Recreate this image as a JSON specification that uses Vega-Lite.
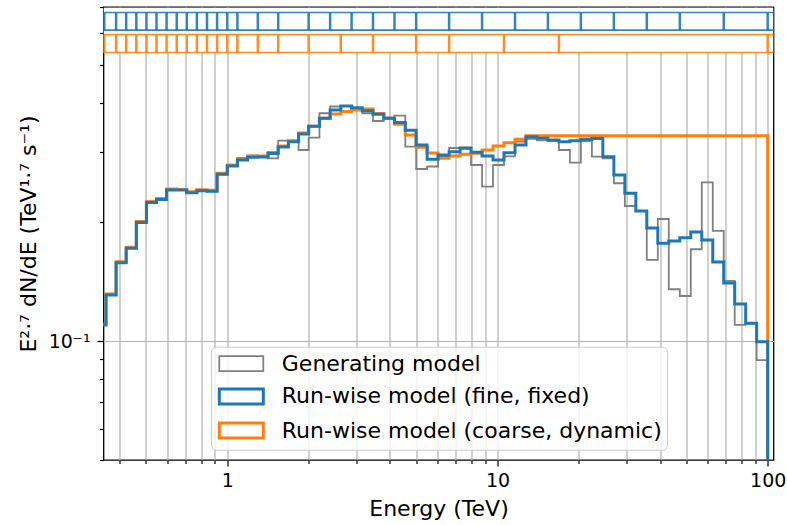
{
  "$schema": "https://vega.github.io/schema/vega-lite/v6.json",
  "width": 670,
  "height": 453,
  "autosize": {"type": "none"},
  "padding": {"left": 103.5, "top": 7, "right": 13.5, "bottom": 65},
  "background": "white",
  "config": {
    "font": "DejaVu Sans",
    "view": {"stroke": "black", "strokeWidth": 1.3}
  },
  "datasets": {
    "h": [
      {"i":0,"e":0.34,"g":0.1098,"f":0.1098,"c":0.1105},
      {"i":1,"e":0.3557,"g":0.1307,"f":0.1307,"c":0.1315},
      {"i":2,"e":0.3877,"g":0.1578,"f":0.1578,"c":0.1587},
      {"i":3,"e":0.4224,"g":0.1717,"f":0.1717,"c":0.1727},
      {"i":4,"e":0.4606,"g":0.1995,"f":0.1995,"c":0.2007},
      {"i":5,"e":0.502,"g":0.2241,"f":0.2241,"c":0.2254},
      {"i":6,"e":0.547,"g":0.2301,"f":0.2281,"c":0.2294},
      {"i":7,"e":0.5961,"g":0.2418,"f":0.2412,"c":0.2426},
      {"i":8,"e":0.6499,"g":0.2410,"f":0.2410,"c":0.2418},
      {"i":9,"e":0.708,"g":0.2373,"f":0.2373,"c":0.2387},
      {"i":10,"e":0.7718,"g":0.2401,"f":0.2401,"c":0.2415},
      {"i":11,"e":0.8411,"g":0.2393,"f":0.2393,"c":0.2407},
      {"i":12,"e":0.9167,"g":0.2641,"f":0.2641,"c":0.2656},
      {"i":13,"e":1.0,"g":0.2772,"f":0.2772,"c":0.2788},
      {"i":14,"e":1.09,"g":0.2904,"f":0.2871,"c":0.2888},
      {"i":15,"e":1.189,"g":0.2947,"f":0.2916,"c":0.2933},
      {"i":16,"e":1.297,"g":0.2939,"f":0.2921,"c":0.2938},
      {"i":17,"e":1.415,"g":0.2899,"f":0.2982,"c":0.2999},
      {"i":18,"e":1.543,"g":0.3213,"f":0.3097,"c":0.3115},
      {"i":19,"e":1.683,"g":0.3213,"f":0.3194,"c":0.3213},
      {"i":20,"e":1.836,"g":0.3043,"f":0.3341,"c":0.3360},
      {"i":21,"e":2.0,"g":0.3269,"f":0.3494,"c":0.3494},
      {"i":22,"e":2.193,"g":0.3769,"f":0.3660,"c":0.3660},
      {"i":23,"e":2.402,"g":0.3921,"f":0.3842,"c":0.3753},
      {"i":24,"e":2.631,"g":0.3932,"f":0.3932,"c":0.3808},
      {"i":25,"e":2.884,"g":0.3880,"f":0.3894,"c":0.3842},
      {"i":26,"e":3.159,"g":0.3769,"f":0.3826,"c":0.3864},
      {"i":27,"e":3.461,"g":0.3603,"f":0.3747,"c":0.3764},
      {"i":28,"e":3.795,"g":0.3673,"f":0.3660,"c":0.3660},
      {"i":29,"e":4.157,"g":0.3716,"f":0.3572,"c":0.3535},
      {"i":30,"e":4.558,"g":0.3102,"f":0.3413,"c":0.3321},
      {"i":31,"e":5.0,"g":0.2724,"f":0.3133,"c":0.3091},
      {"i":32,"e":5.49,"g":0.2764,"f":0.2884,"c":0.2990},
      {"i":33,"e":6.029,"g":0.2921,"f":0.2956,"c":0.2899},
      {"i":34,"e":6.621,"g":0.3079,"f":0.3013,"c":0.2939},
      {"i":35,"e":7.27,"g":0.3088,"f":0.3073,"c":0.2968},
      {"i":36,"e":7.983,"g":0.2788,"f":0.3003,"c":0.2985},
      {"i":37,"e":8.766,"g":0.2458,"f":0.2939,"c":0.3043},
      {"i":38,"e":9.626,"g":0.2788,"f":0.2871,"c":0.3115},
      {"i":39,"e":10.57,"g":0.2933,"f":0.2996,"c":0.3175},
      {"i":40,"e":11.61,"g":0.3194,"f":0.3133,"c":0.3239},
      {"i":41,"e":12.75,"g":0.3245,"f":0.3289,"c":0.3306},
      {"i":42,"e":14.0,"g":0.3217,"f":0.3258,"c":0.3306},
      {"i":43,"e":15.37,"g":0.3207,"f":0.3226,"c":0.3306},
      {"i":44,"e":16.88,"g":0.3043,"f":0.3194,"c":0.3306},
      {"i":45,"e":18.53,"g":0.2826,"f":0.3213,"c":0.3306},
      {"i":46,"e":20.35,"g":0.3207,"f":0.3239,"c":0.3306},
      {"i":47,"e":22.35,"g":0.2927,"f":0.3254,"c":0.3306},
      {"i":48,"e":24.54,"g":0.2899,"f":0.2927,"c":0.3306},
      {"i":49,"e":26.96,"g":0.2507,"f":0.2630,"c":0.3306},
      {"i":50,"e":29.6,"g":0.2196,"f":0.2365,"c":0.3306},
      {"i":51,"e":32.51,"g":0.2133,"f":0.2133,"c":0.3306},
      {"i":52,"e":35.69,"g":0.1604,"f":0.1932,"c":0.3306},
      {"i":53,"e":39.2,"g":0.2036,"f":0.1767,"c":0.3306},
      {"i":54,"e":43.04,"g":0.1352,"f":0.1791,"c":0.3306},
      {"i":55,"e":47.29,"g":0.1300,"f":0.1826,"c":0.3306},
      {"i":56,"e":51.92,"g":0.1707,"f":0.1888,"c":0.3306},
      {"i":57,"e":57.02,"g":0.2521,"f":0.1802,"c":0.3306},
      {"i":58,"e":62.61,"g":0.1899,"f":0.1585,"c":0.3306},
      {"i":59,"e":68.75,"g":0.1419,"f":0.1402,"c":0.3306},
      {"i":60,"e":75.5,"g":0.1098,"f":0.1241,"c":0.3306},
      {"i":61,"e":82.9,"g":0.1109,"f":0.1109,"c":0.3306},
      {"i":62,"e":91.03,"g":0.0895,"f":0.0996,"c":0.3306},
      {"i":63,"e":100,"g":0.01,"f":0.01,"c":0.01}
    ],
    "edges": [
      {"s":"f","e":0.3505},{"s":"f","e":0.3877},{"s":"f","e":0.4224},{"s":"f","e":0.4606},{"s":"f","e":0.502},
      {"s":"f","e":0.547},{"s":"f","e":0.5961},{"s":"f","e":0.6499},{"s":"f","e":0.708},{"s":"f","e":0.7718},
      {"s":"f","e":0.8411},{"s":"f","e":0.9167},{"s":"f","e":1.0},{"s":"f","e":1.09},{"s":"f","e":1.297},
      {"s":"f","e":1.543},{"s":"f","e":2.0},{"s":"f","e":2.402},{"s":"f","e":2.884},{"s":"f","e":3.461},
      {"s":"f","e":4.157},{"s":"f","e":5.0},{"s":"f","e":6.621},{"s":"f","e":8.766},{"s":"f","e":11.61},
      {"s":"f","e":15.37},{"s":"f","e":20.35},{"s":"f","e":26.96},{"s":"f","e":35.69},{"s":"f","e":47.29},
      {"s":"f","e":68.75},{"s":"f","e":100},
      {"s":"c","e":0.3505},{"s":"c","e":0.3877},{"s":"c","e":0.4224},{"s":"c","e":0.4606},{"s":"c","e":0.502},
      {"s":"c","e":0.547},{"s":"c","e":0.5961},{"s":"c","e":0.6499},{"s":"c","e":0.708},{"s":"c","e":0.7718},
      {"s":"c","e":0.8411},{"s":"c","e":0.9167},{"s":"c","e":1.0},{"s":"c","e":1.09},{"s":"c","e":1.297},
      {"s":"c","e":1.543},{"s":"c","e":2.0},{"s":"c","e":2.631},{"s":"c","e":3.461},{"s":"c","e":5.0},
      {"s":"c","e":6.621},{"s":"c","e":10.57},{"s":"c","e":16.88},{"s":"c","e":100}
    ]
  },
  "layer": [
    {
      "data": {"name": "h"},
      "transform": [{"fold": ["g", "f", "c"], "as": ["m", "v"]}, {"filter": "datum.m == 'g'"}],
      "mark": {"type": "line", "interpolate": "step-after", "clip": true},
      "encoding": {
        "x": {"field": "e", "type": "quantitative", "scale": {"type": "log", "domain": [0.3482, 105.07], "nice": false},
          "axis": {
            "title": "Energy (TeV)",
            "values": [0.4,0.5,0.6,0.7,0.8,0.9,1,2,3,4,5,6,7,8,9,10,20,30,40,50,60,70,80,90,100],
            "format": "~g",
            "labelExpr": "(datum.value == 1 || datum.value == 10 || datum.value == 100) ? datum.label : ''",
            "tickSize": {"condition": {"test": "datum.value == 1 || datum.value == 10 || datum.value == 100", "value": 6}, "value": 3.5},
            "grid": true, "gridColor": "#b0b0b0", "gridWidth": 1.2,
            "domain": false, "tickColor": "black", "tickWidth": 1.2,
            "labelFontSize": 19, "labelColor": "black", "labelPadding": 5,
            "labelOverlap": false, "labelFlush": false,
            "titleFontSize": 22, "titleFontWeight": "normal", "titleColor": "black", "titlePadding": 8
          }},
        "y": {"field": "v", "type": "quantitative", "scale": {"type": "log", "domain": [0.05, 0.7], "nice": false},
          "axis": {
            "title": "E²·⁷ dN/dE (TeV¹·⁷ s⁻¹)",
            "values": [0.05,0.06,0.07,0.08,0.09,0.1,0.2,0.3,0.4,0.5,0.6,0.7],
            "labelExpr": "datum.value == 0.1 ? '10⁻¹' : ''",
            "tickSize": {"condition": {"test": "datum.value == 0.1", "value": 6.5}, "value": 4},
            "grid": true, "gridColor": "#b0b0b0", "gridWidth": 1.2,
            "gridOpacity": {"condition": {"test": "datum.value == 0.1", "value": 1}, "value": 0},
            "domain": false, "tickColor": "black", "tickWidth": 1.2,
            "labelFontSize": 19, "labelColor": "black", "labelPadding": 7,
            "labelOverlap": false, "labelFlush": false,
            "titleFontSize": 22, "titleFontWeight": "normal", "titleColor": "black", "titlePadding": 8
          }},
        "order": {"field": "i", "type": "quantitative"},
        "color": {"field": "m", "type": "nominal",
          "scale": {"domain": ["g", "f", "c"], "range": ["#808080", "#1f77b4", "#ff7f0e"]},
          "legend": {
            "title": null, "orient": "none", "legendX": 107.5, "legendY": 339.7,
            "labelExpr": "datum.label == 'g' ? 'Generating model' : datum.label == 'f' ? 'Run-wise model (fine, fixed)' : 'Run-wise model (coarse, dynamic)'",
            "symbolType": "M-2,-0.68H2V0.68H-2Z", "symbolSize": 484, "symbolFillColor": "transparent",
            "labelFontSize": 22, "labelColor": "black", "labelLimit": 0,
            "labelOffset": 28, "symbolOffset": 12.8, "padding": 5, "rowPadding": 7.2,
            "strokeColor": "#cccccc", "cornerRadius": 5, "fillColor": "rgba(255,255,255,0.8)"
          }},
        "strokeWidth": {"field": "m", "type": "nominal",
          "scale": {"type": "ordinal", "domain": ["g", "f", "c"], "range": [1.8, 3, 3]},
          "legend": null}
      }
    },
    {
      "data": {"name": "h"},
      "transform": [{"fold": ["g", "f", "c"], "as": ["m", "v"]}, {"filter": "datum.m == 'c'"}],
      "mark": {"type": "line", "interpolate": "step-after", "clip": true},
      "encoding": {
        "x": {"field": "e", "type": "quantitative", "scale": {"type": "log", "domain": [0.3482, 105.07], "nice": false}},
        "y": {"field": "v", "type": "quantitative", "scale": {"type": "log", "domain": [0.05, 0.7], "nice": false}},
        "order": {"field": "i", "type": "quantitative"},
        "color": {"field": "m", "type": "nominal", "scale": {"domain": ["g", "f", "c"], "range": ["#808080", "#1f77b4", "#ff7f0e"]}},
        "strokeWidth": {"field": "m", "type": "nominal", "scale": {"type": "ordinal", "domain": ["g", "f", "c"], "range": [1.8, 3, 3]}, "legend": null}
      }
    },
    {
      "data": {"name": "h"},
      "transform": [{"fold": ["g", "f", "c"], "as": ["m", "v"]}, {"filter": "datum.m == 'f'"}],
      "mark": {"type": "line", "interpolate": "step-after", "clip": true},
      "encoding": {
        "x": {"field": "e", "type": "quantitative", "scale": {"type": "log", "domain": [0.3482, 105.07], "nice": false}},
        "y": {"field": "v", "type": "quantitative", "scale": {"type": "log", "domain": [0.05, 0.7], "nice": false}},
        "order": {"field": "i", "type": "quantitative"},
        "color": {"field": "m", "type": "nominal", "scale": {"domain": ["g", "f", "c"], "range": ["#808080", "#1f77b4", "#ff7f0e"]}},
        "strokeWidth": {"field": "m", "type": "nominal", "scale": {"type": "ordinal", "domain": ["g", "f", "c"], "range": [1.8, 3, 3]}, "legend": null}
      }
    },
    {
      "data": {"values": [{}]},
      "mark": {"type": "rect", "color": "white", "clip": true},
      "encoding": {
        "x": {"datum": 0.3482, "type": "quantitative", "scale": {"type": "log", "domain": [0.3482, 105.07], "nice": false}},
        "x2": {"datum": 105.07},
        "y": {"datum": 0.537, "type": "quantitative", "scale": {"type": "log", "domain": [0.05, 0.7], "nice": false}},
        "y2": {"datum": 0.697}
      }
    },
    {
      "data": {"name": "edges"},
      "transform": [{"filter": "datum.s == 'f'"}],
      "mark": {"type": "rule", "color": "#1f77b4", "strokeWidth": 2.5, "opacity": 0.9, "clip": true},
      "encoding": {
        "x": {"field": "e", "type": "quantitative", "scale": {"type": "log", "domain": [0.3482, 105.07], "nice": false}},
        "y": {"datum": 0.6779, "type": "quantitative", "scale": {"type": "log", "domain": [0.05, 0.7], "nice": false}},
        "y2": {"datum": 0.6115}
      }
    },
    {
      "data": {"name": "edges"},
      "transform": [{"filter": "datum.s == 'c'"}],
      "mark": {"type": "rule", "color": "#ff7f0e", "strokeWidth": 2.5, "opacity": 0.9, "clip": true},
      "encoding": {
        "x": {"field": "e", "type": "quantitative", "scale": {"type": "log", "domain": [0.3482, 105.07], "nice": false}},
        "y": {"datum": 0.5957, "type": "quantitative", "scale": {"type": "log", "domain": [0.05, 0.7], "nice": false}},
        "y2": {"datum": 0.537}
      }
    },
    {
      "data": {"values": [{"s": "f", "y": 0.6779}, {"s": "f", "y": 0.6115}]},
      "mark": {"type": "rule", "color": "#1f77b4", "strokeWidth": 1.7, "opacity": 0.9},
      "encoding": {
        "y": {"field": "y", "type": "quantitative", "scale": {"type": "log", "domain": [0.05, 0.7], "nice": false}}
      }
    },
    {
      "data": {"values": [{"s": "c", "y": 0.5957}, {"s": "c", "y": 0.537}]},
      "mark": {"type": "rule", "color": "#ff7f0e", "strokeWidth": 1.7, "opacity": 0.9},
      "encoding": {
        "y": {"field": "y", "type": "quantitative", "scale": {"type": "log", "domain": [0.05, 0.7], "nice": false}}
      }
    }
  ]
}
